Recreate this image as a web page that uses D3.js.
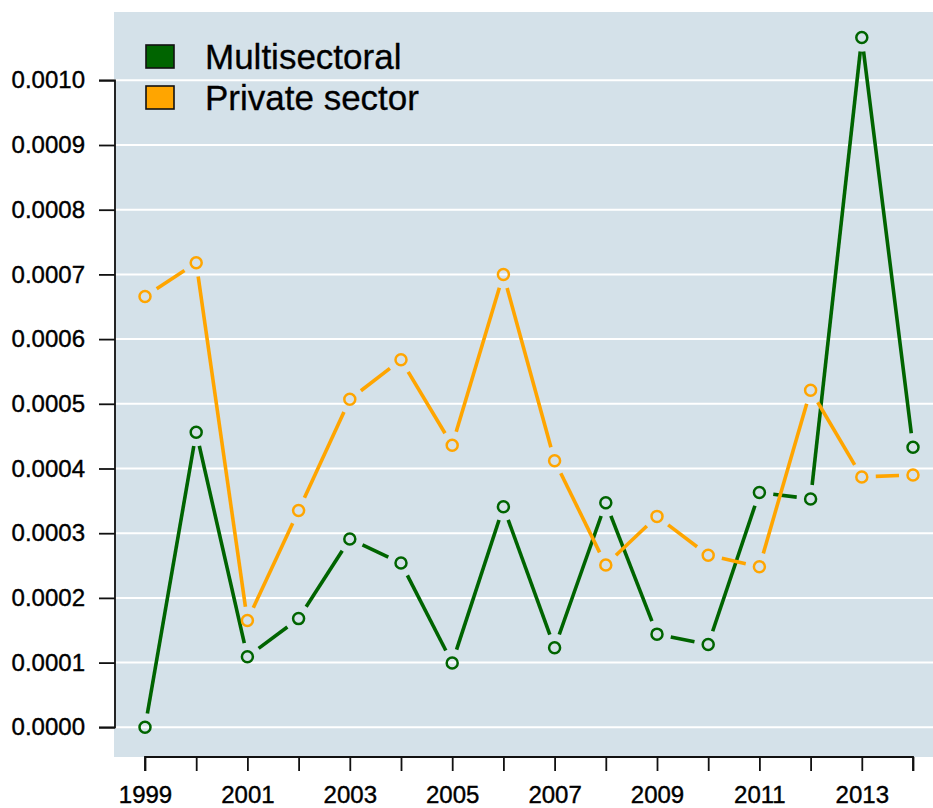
<!DOCTYPE html>
<html>
<head>
<meta charset="utf-8">
<script src="https://cdn.jsdelivr.net/npm/d3@7"></script>
<style>
  html, body { margin: 0; padding: 0; background: #ffffff; }
  svg { display: block; }
  text { font-family: "Liberation Sans", Arial, sans-serif; fill: #000; }
</style>
</head>
<body>
<svg id="chart" width="933" height="808"></svg>
<script>
// ---- data ----
const years = [1999, 2000, 2001, 2002, 2003, 2004, 2005, 2006, 2007, 2008, 2009, 2010, 2011, 2012, 2013, 2014];
const multisectoral = [0.000000, 0.000456, 0.000109, 0.000168, 0.000291, 0.000254, 0.0000994, 0.000341, 0.000123, 0.000347, 0.000144, 0.000128, 0.000363, 0.000353, 0.001066, 0.000433];
const privateSector = [0.000666, 0.000718, 0.000165, 0.000335, 0.000507, 0.000568, 0.000436, 0.000700, 0.000412, 0.000251, 0.000326, 0.000266, 0.000248, 0.000521, 0.000387, 0.000390];
const seriesNames = ["Multisectoral", "Private sector"];
const seriesColors = ["#006400", "#ffa500"];
const yTicks = [0.0000, 0.0001, 0.0002, 0.0003, 0.0004, 0.0005, 0.0006, 0.0007, 0.0008, 0.0009, 0.0010];
const xTickLabels = [1999, 2001, 2003, 2005, 2007, 2009, 2011, 2013];

// ---- layout ----
const svg = d3.select("#chart");
const plot = { left: 114, right: 945, top: 12, bottom: 757 };

const x = d3.scaleLinear().domain([1999, 2014]).range([145, 913]);
const y = d3.scaleLinear().domain([0, 0.001]).range([727.3, 80.3]);

// background
svg.append("rect")
  .attr("x", plot.left).attr("y", plot.top)
  .attr("width", plot.right - plot.left).attr("height", plot.bottom - plot.top)
  .attr("fill", "#d4e1e9");

// grid lines
svg.append("g").selectAll("line").data(yTicks).join("line")
  .attr("x1", plot.left).attr("x2", plot.right)
  .attr("y1", d => y(d)).attr("y2", d => y(d))
  .attr("stroke", "#ffffff").attr("stroke-width", 2);

// y axis
const yAxis = d3.axisLeft(y).tickValues(yTicks).tickFormat(d3.format(".4f")).tickSize(16).tickPadding(14);
const gy = svg.append("g").attr("transform", `translate(${plot.left + 1},0)`).call(yAxis);
gy.select(".domain").attr("stroke", "#111").attr("stroke-width", 1.8).attr("d", `M-16,${y(0)}H0V${y(0.001)}H-16`);
gy.selectAll(".tick line").attr("stroke", "#111").attr("stroke-width", 1.8);
gy.selectAll(".tick text").attr("font-size", 24).attr("font-family", "Liberation Sans, Arial, sans-serif").attr("fill", "#000")
  .attr("stroke", "#000").attr("stroke-width", 0.4);

// x axis
const xAxis = d3.axisBottom(x).tickValues(years).tickFormat(d => xTickLabels.includes(d) ? String(d) : "").tickSize(14).tickPadding(15);
const gx = svg.append("g").attr("transform", `translate(0,${plot.bottom})`).call(xAxis);
gx.select(".domain").attr("stroke", "#111").attr("stroke-width", 1.8).attr("d", `M${x(1999)},14V0H${x(2014)}V14`);
gx.selectAll(".tick line").attr("stroke", "#111").attr("stroke-width", 1.8);
gx.selectAll(".tick text").attr("font-size", 24).attr("font-family", "Liberation Sans, Arial, sans-serif").attr("fill", "#000")
  .attr("stroke", "#000").attr("stroke-width", 0.4);

// series: lines with gaps around points (type "b"), then open circles
const allSeries = [multisectoral, privateSector];
const gap = 14;
allSeries.forEach((vals, si) => {
  const pts = years.map((yr, i) => [x(yr), y(vals[i])]);
  const segs = [];
  for (let i = 0; i < pts.length - 1; i++) {
    const [x1, y1] = pts[i], [x2, y2] = pts[i + 1];
    const dx = x2 - x1, dy = y2 - y1, len = Math.hypot(dx, dy);
    if (len > 2 * gap) {
      const ux = dx / len, uy = dy / len;
      segs.push([x1 + ux * gap, y1 + uy * gap, x2 - ux * gap, y2 - uy * gap]);
    }
  }
  const g = svg.append("g");
  g.selectAll("line").data(segs).join("line")
    .attr("x1", d => d[0]).attr("y1", d => d[1])
    .attr("x2", d => d[2]).attr("y2", d => d[3])
    .attr("stroke", seriesColors[si]).attr("stroke-width", 3.6)
    .attr("stroke-linecap", "butt");
  g.selectAll("circle").data(pts).join("circle")
    .attr("cx", d => d[0]).attr("cy", d => d[1]).attr("r", 5.5)
    .attr("fill", "none").attr("stroke", seriesColors[si]).attr("stroke-width", 2.5);
});

// legend
const legend = svg.append("g");
seriesNames.forEach((name, i) => {
  const cy = 56.5 + i * 41;
  legend.append("rect")
    .attr("x", 146).attr("y", cy - 11.5).attr("width", 28).attr("height", 23)
    .attr("fill", seriesColors[i]).attr("stroke", "#111").attr("stroke-width", 1.6);
  legend.append("text")
    .attr("x", 205).attr("y", cy + 12)
    .attr("font-size", 35)
    .attr("stroke", "#000").attr("stroke-width", 0.3)
    .text(name);
});
</script>
</body>
</html>
